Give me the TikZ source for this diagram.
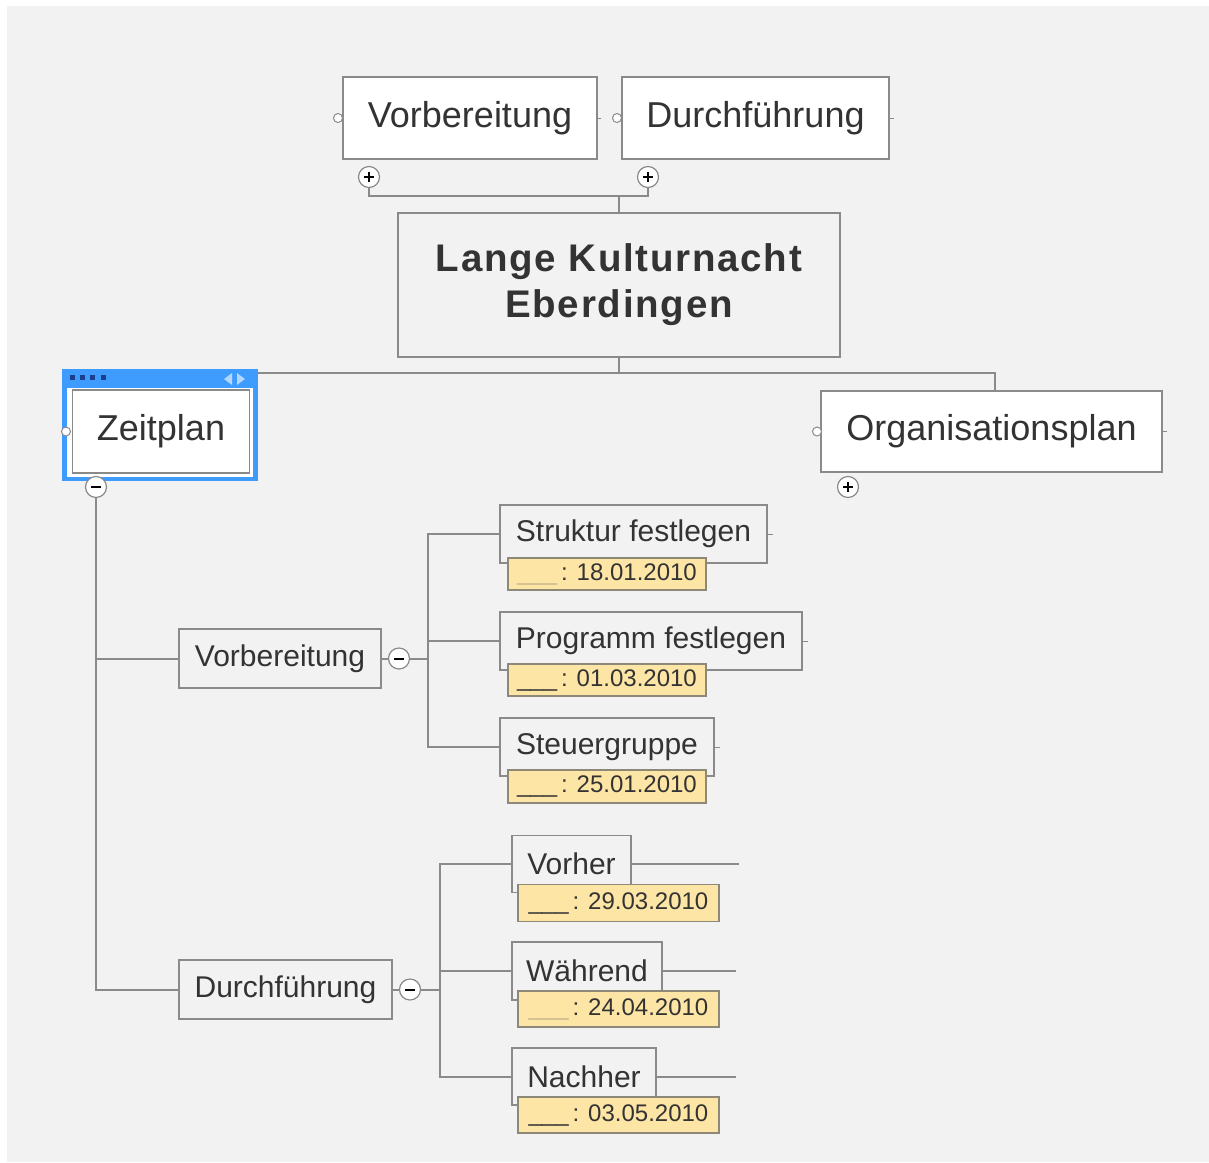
\documentclass[tikz,border=0pt]{standalone}
\usepackage{fontspec}
\setmainfont{Liberation Sans}
\newfontfamily\titlefont[LetterSpace=4.5]{Liberation Sans}
\definecolor{bg}{HTML}{F2F2F2}
\definecolor{ln}{HTML}{8A8A8A}
\definecolor{txt}{HTML}{333333}
\definecolor{datefill}{HTML}{FDE5A6}
\definecolor{dateline}{HTML}{8E8878}
\definecolor{undl}{HTML}{C8B88A}
\definecolor{selblue}{HTML}{3F9CFF}
\definecolor{seldark}{HTML}{1B3F8F}
\definecolor{sellight}{HTML}{B5D7FF}
\tikzset{
  conn/.style={draw=ln, line width=2pt},
  topbox/.style={draw=ln, line width=1.8pt, fill=white, text=txt, inner sep=0pt,
    font=\fontsize{36}{40}\selectfont},
  titlebox/.style={draw=ln, line width=1.8pt, fill=bg, text=txt, inner sep=0pt, align=center,
    font=\titlefont\bfseries\fontsize{38.5}{46}\selectfont},
  subbox/.style={draw=ln, line width=1.8pt, fill=bg, text=txt, inner sep=0pt,
    font=\fontsize{30}{32}\selectfont},
  datebox/.style={draw=dateline, line width=1.3pt, fill=datefill, text=txt, inner sep=0pt,
    font=\fontsize{24}{26}\selectfont},
  port/.style={circle, draw=ln, line width=1pt, fill=white, minimum size=9pt, inner sep=0pt},
  pm/.style={circle, draw=ln, line width=1.2pt, fill=white, minimum size=21pt, inner sep=0pt},
  plusnode/.style={pm, path picture={
    \draw[black, line width=2pt] ([xshift=-5pt]path picture bounding box.center) -- ([xshift=5pt]path picture bounding box.center);
    \draw[black, line width=2pt] ([yshift=-5pt]path picture bounding box.center) -- ([yshift=5pt]path picture bounding box.center);}},
  minusnode/.style={pm, path picture={
    \draw[black, line width=2pt] ([xshift=-5pt]path picture bounding box.center) -- ([xshift=5pt]path picture bounding box.center);}},
}
\newcommand{\dateA}[1]{\textcolor{undl}{\_\_\_}\,: #1}
\newcommand{\dateB}[1]{\textcolor{txt}{\_\_\_}\,: #1}
\begin{document}
\begin{tikzpicture}[x=1pt, y=-1pt]
\useasboundingbox (0,0) rectangle (1209,1162);
\fill[white] (0,0) rectangle (1209,1162);
\fill[bg] (7,6) rectangle (1209,1162);

% ---------- top level ----------
\node[topbox, minimum width=254pt, minimum height=82pt] (tv) at (470,118) {Vorbereitung};
\node[topbox, minimum width=267pt, minimum height=82pt] (td) at (755.5,118) {Durchführung};
\node[port] (tvp) at (338,118) {};
\node[port] (tdp) at (617,118) {};
\coordinate (tdr) at (894,118);
\draw[conn, line width=1pt] (td.east) -- (tdr);
\coordinate (tvr) at (601,118);
\draw[conn, line width=1pt] (tv.east) -- (tvr);
\node[plusnode] (ptv) at (369,177) {};
\node[plusnode] (ptd) at (648,177) {};

\node[titlebox, minimum width=442pt, minimum height=144pt] (ct) at (619,285) {Lange Kulturnacht\\Eberdingen};

\coordinate (jtop) at (619,196);
\draw[conn] (ptv.south) |- (jtop) -| (ptd.south);
\draw[conn] (jtop) -- (ct.north);

% ---------- Zeitplan (selected) ----------
\coordinate (hub) at (619,373);
\draw[conn] (ct.south) -- (hub);
\coordinate (orgtop) at (995,391);
\draw[conn] (hub) -| (orgtop);

\fill[selblue] (62,369) rectangle (258,481);
\fill[white] (67,388) rectangle (253,477);
\node[coordinate] (zsel) at (258,373) {};
\draw[conn] (hub) -- (zsel);
\foreach \xx in {70,80,90,101} \fill[seldark] (\xx,375) rectangle ++(5,5);
\fill[sellight] (232,373) -- (232,385) -- (224,379) -- cycle;
\fill[sellight] (237,373) -- (237,385) -- (245,379) -- cycle;

\node[topbox, minimum width=177pt, minimum height=83pt] (zp) at (161,431.5) {Zeitplan};
\node[port] (zpp) at (66,431.5) {};
\node[minusnode] (mz) at (96,487) {};

% ---------- Organisationsplan ----------
\node[topbox, minimum width=341pt, minimum height=81pt] (org) at (991.5,431.5) {Organisationsplan};
\node[port] (orgp) at (817,431.5) {};
\coordinate (orgr) at (1167,431.5);
\draw[conn, line width=1pt] (org.east) -- (orgr);
\node[plusnode] (porg) at (848,487) {};

% ---------- level 2 ----------
\node[subbox, minimum width=202pt, minimum height=59pt] (v2) at (280,658.5) {Vorbereitung};
\node[subbox, minimum width=213pt, minimum height=59pt] (d2) at (285.5,989.5) {Durchführung};
\draw[conn] (mz.south) |- (v2.west);
\draw[conn] (mz.south) |- (d2.west);
\node[minusnode] (mv) at (399,658.5) {};
\node[minusnode] (md) at (410,989.5) {};
\draw[conn] (v2.east) -- (mv.west);
\draw[conn] (d2.east) -- (md.west);

% ---------- Vorbereitung children ----------
\node[subbox, minimum width=267pt, minimum height=58pt] (s1) at (633.5,534) {Struktur festlegen};
\node[subbox, minimum width=302pt, minimum height=58pt] (s2) at (651,641) {Programm festlegen};
\node[subbox, minimum width=214pt, minimum height=58pt] (s3) at (607,747) {Steuergruppe};
\coordinate (jv) at (428,658.5);
\draw[conn] (mv.east) -- (jv);
\draw[conn] (jv) |- (s1.west);
\draw[conn] (jv) |- (s2.west);
\draw[conn] (jv) |- (s3.west);
\coordinate (s1r) at (773,534);
\coordinate (s2r) at (808,641);
\coordinate (s3r) at (720,747);
\draw[conn, line width=1pt] (s1.east) -- (s1r);
\draw[conn, line width=1pt] (s2.east) -- (s2r);
\draw[conn, line width=1pt] (s3.east) -- (s3r);
\node[datebox, minimum width=198pt, minimum height=32pt] (d1) at (607,574) {\dateA{18.01.2010}};
\node[datebox, minimum width=198pt, minimum height=32pt] (dd2) at (607,680) {\dateB{01.03.2010}};
\node[datebox, minimum width=198pt, minimum height=33pt] (d3) at (607,786.5) {\dateB{25.01.2010}};

% ---------- Durchführung children ----------
\node[subbox, minimum width=119pt, minimum height=57pt] (u1) at (571.5,864) {Vorher};
\node[subbox, minimum width=150pt, minimum height=58pt] (u2) at (587,971) {Während};
\node[subbox, minimum width=144pt, minimum height=57pt] (u3) at (584,1076.5) {Nachher};
\coordinate (jd) at (440,989.5);
\draw[conn] (md.east) -- (jd);
\draw[conn] (jd) |- (u1.west);
\draw[conn] (jd) |- (u2.west);
\draw[conn] (jd) |- (u3.west);
\coordinate (u1r) at (739,864);
\coordinate (u2r) at (736,971);
\coordinate (u3r) at (736,1076.5);
\draw[conn] (u1.east) -- (u1r);
\draw[conn] (u2.east) -- (u2r);
\draw[conn] (u3.east) -- (u3r);
\node[datebox, minimum width=201pt, minimum height=37pt] (e1) at (618.5,903) {\dateB{29.03.2010}};
\node[datebox, minimum width=201pt, minimum height=36pt] (e2) at (618.5,1009) {\dateA{24.04.2010}};
\node[datebox, minimum width=201pt, minimum height=36pt] (e3) at (618.5,1115) {\dateB{03.05.2010}};
\end{tikzpicture}
\end{document}
